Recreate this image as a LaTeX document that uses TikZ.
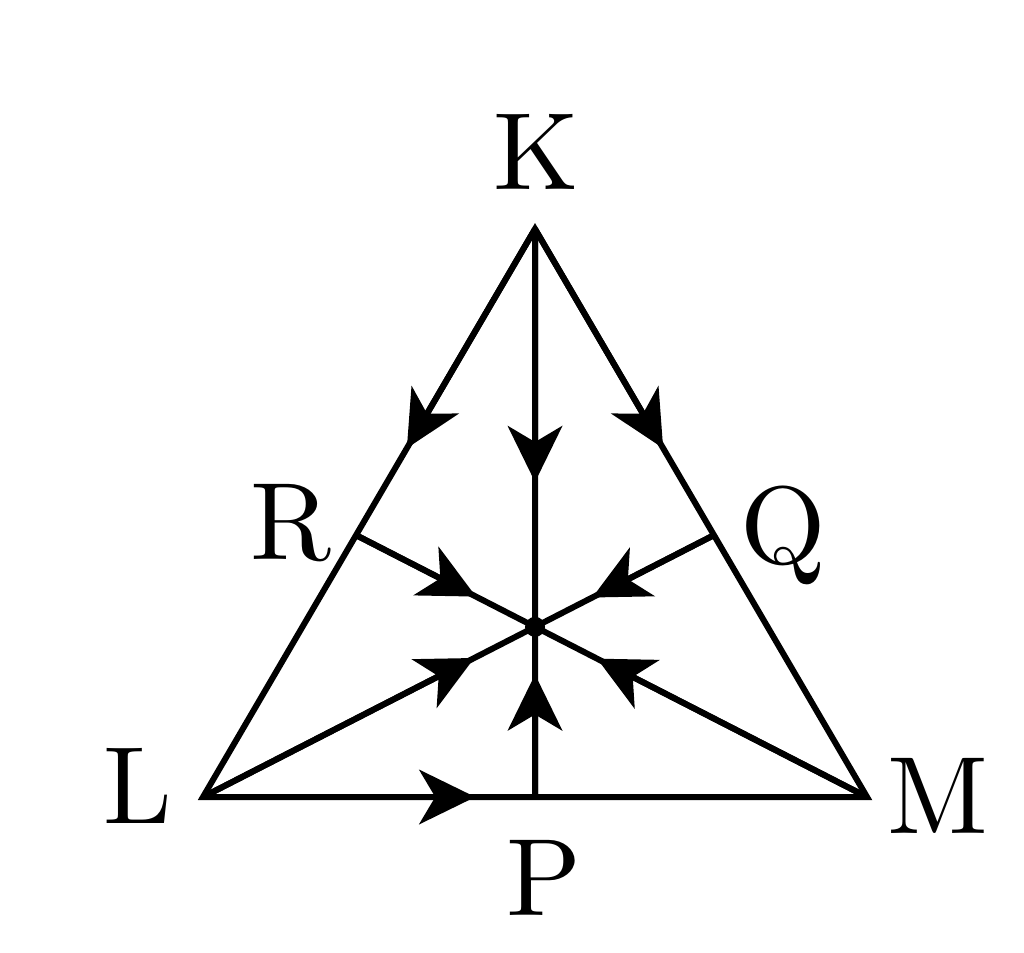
\documentclass[tikz,border=0pt]{standalone}
\usetikzlibrary{
    arrows.meta,
    calc,
}

\begin{document}
\begin{tikzpicture}[
        x=0.25pt, y=0.25pt,
        side/.style={line width=1.5pt, line join=miter},
        flow/.style={line width=1.5pt, -{Stealth[length=14pt, width=13.6pt, inset=4pt]}},
        vlabel/.style={anchor=base, inner sep=0pt, scale=2.75, transform shape},
        ]
        \useasboundingbox (0,0) rectangle (1024,952);
        \coordinate (K) at (535,723);
        \coordinate (L) at (203,155);
        \coordinate (M) at (867,155);
        \coordinate (P) at (535,155);
        \coordinate (R) at ($(K)!0.539!(L)$);
        \coordinate (Q) at ($(K)!0.539!(M)$);
        \coordinate (O) at (intersection of L--Q and K--P);
        \node[vlabel] (labK) at (536,762) {K};
        \node[vlabel] (labL) at (138,129) {L};
        \node[vlabel] (labM) at (938,119) {M};
        \node[vlabel] (labP) at (544,37)  {P};
        \node[vlabel] (labR) at (291,393) {R};
        \node[vlabel] (labQ) at (783,389) {Q};
        \draw[side] (K) -- (L) -- (M) -- cycle;
        \draw[side] (K) -- (O);
        \draw[side] (P) -- (O);
        \draw[side] (L) -- (Q);
        \draw[side] (M) -- (R);
        \draw[flow] (K) -- ($(K)!0.386!(L)$);
        \draw[flow] (K) -- ($(K)!0.386!(M)$);
        \draw[flow] (K) -- ($(K)!0.636!(O)$);
        \draw[flow] (R) -- ($(R)!0.67!(O)$);
        \draw[flow] (Q) -- ($(Q)!0.68!(O)$);
        \draw[flow] (L) -- ($(L)!0.817!(O)$);
        \draw[flow] (M) -- ($(M)!0.813!(O)$);
        \draw[flow] (P) -- ($(P)!0.72!(O)$);
        \draw[flow] (L) -- ($(L)!0.82!(P)$);
        \fill (O) circle (2.5pt);
    \end{tikzpicture}
\end{document}
